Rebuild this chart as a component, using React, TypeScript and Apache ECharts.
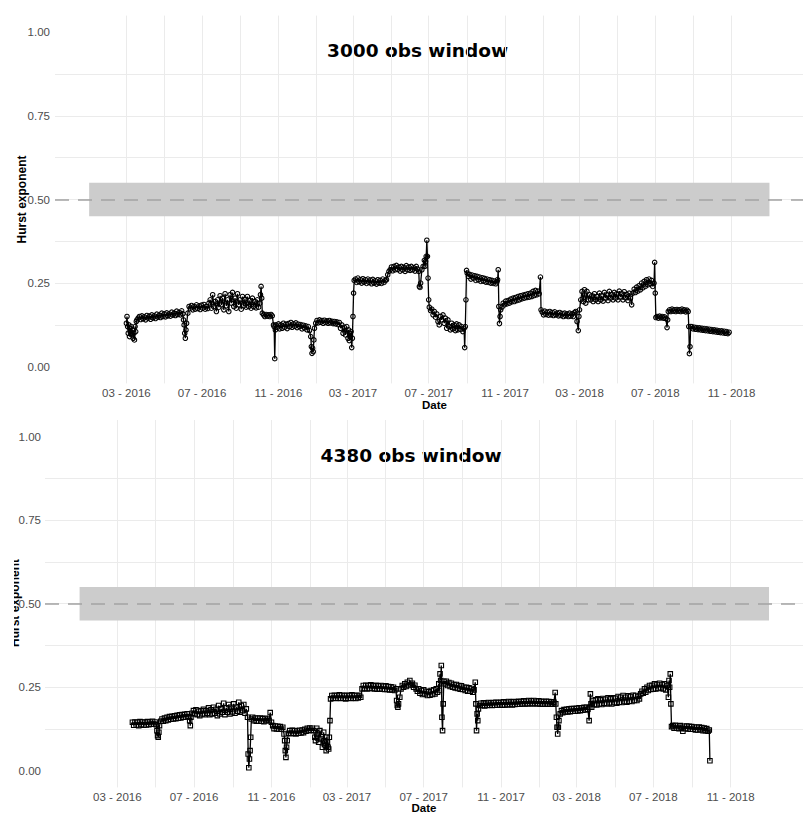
import React, { useEffect, useRef } from "react";
import * as echarts from "echarts";

// ---------- data ----------
const xMin = "2015-11-07";
const xMax = "2019-02-24";
const bandStart = "2016-01-01";
const bandEnd = "2019-01-01";
const bandLow = 0.45;
const bandHigh = 0.55;
const refLevel = 0.5;

const xGridDates = [
  "2016-01-01", "2016-03-01", "2016-05-01", "2016-07-01", "2016-09-01", "2016-11-01",
  "2017-01-01", "2017-03-01", "2017-05-01", "2017-07-01", "2017-09-01", "2017-11-01",
  "2018-01-01", "2018-03-01", "2018-05-01", "2018-07-01", "2018-09-01", "2018-11-01",
  "2019-01-01",
];
const xLabelDates = [
  "2016-03-01", "2016-07-01", "2016-11-01", "2017-03-01", "2017-07-01",
  "2017-11-01", "2018-03-01", "2018-07-01", "2018-11-01",
];
const yGridValues = [0, 0.125, 0.25, 0.375, 0.5, 0.625, 0.75, 0.875, 1];
const yLabelValues = [0, 0.25, 0.5, 0.75, 1];
const panelTitles = ["3000 obs window", "4380 obs window"];
const xTitle = "Date";
const yTitle = "Hurst exponent";

// Hurst exponent, 3000-observation window (date, value)
const hurst3000: [string, number][] = [
  ["2016-03-01",0.13],["2016-03-02",0.15],["2016-03-03",0.12],["2016-03-04",0.1],["2016-03-05",0.125],["2016-03-06",0.09],
  ["2016-03-07",0.115],["2016-03-08",0.1],["2016-03-09",0.12],["2016-03-10",0.095],["2016-03-11",0.11],["2016-03-12",0.085],
  ["2016-03-13",0.1],["2016-03-14",0.08],["2016-03-15",0.12],["2016-03-16",0.105],["2016-03-17",0.135],["2016-03-18",0.14],
  ["2016-03-20",0.145],["2016-03-22",0.15],["2016-03-24",0.141],["2016-03-26",0.152],["2016-03-28",0.143],["2016-03-30",0.149],
  ["2016-04-01",0.14],["2016-04-03",0.153],["2016-04-05",0.145],["2016-04-07",0.151],["2016-04-09",0.142],["2016-04-11",0.155],
  ["2016-04-13",0.146],["2016-04-15",0.152],["2016-04-17",0.144],["2016-04-19",0.157],["2016-04-21",0.148],["2016-04-23",0.154],
  ["2016-04-25",0.147],["2016-04-27",0.16],["2016-04-29",0.15],["2016-05-01",0.158],["2016-05-03",0.149],["2016-05-05",0.161],
  ["2016-05-07",0.152],["2016-05-09",0.158],["2016-05-11",0.151],["2016-05-13",0.163],["2016-05-15",0.154],["2016-05-17",0.16],
  ["2016-05-19",0.153],["2016-05-21",0.166],["2016-05-23",0.156],["2016-05-25",0.162],["2016-05-27",0.155],["2016-05-29",0.167],
  ["2016-05-31",0.158],["2016-06-01",0.14],["2016-06-02",0.125],["2016-06-03",0.1],["2016-06-04",0.085],["2016-06-05",0.11],
  ["2016-06-06",0.13],["2016-06-08",0.16],["2016-06-10",0.18],["2016-06-12",0.175],["2016-06-14",0.183],["2016-06-16",0.17],
  ["2016-06-18",0.18],["2016-06-20",0.172],["2016-06-22",0.185],["2016-06-24",0.174],["2016-06-26",0.182],["2016-06-28",0.171],
  ["2016-06-30",0.184],["2016-07-02",0.175],["2016-07-04",0.186],["2016-07-06",0.172],["2016-07-08",0.18],["2016-07-10",0.174],
  ["2016-07-12",0.19],["2016-07-14",0.2],["2016-07-16",0.175],["2016-07-18",0.215],["2016-07-20",0.18],["2016-07-22",0.195],
  ["2016-07-24",0.165],["2016-07-26",0.2],["2016-07-28",0.178],["2016-07-30",0.212],["2016-08-01",0.185],["2016-08-03",0.205],
  ["2016-08-05",0.17],["2016-08-07",0.218],["2016-08-09",0.182],["2016-08-11",0.2],["2016-08-13",0.165],["2016-08-15",0.215],
  ["2016-08-17",0.19],["2016-08-19",0.222],["2016-08-21",0.18],["2016-08-23",0.205],["2016-08-25",0.175],["2016-08-27",0.218],
  ["2016-08-29",0.185],["2016-08-31",0.2],["2016-09-02",0.172],["2016-09-04",0.21],["2016-09-06",0.182],["2016-09-08",0.202],
  ["2016-09-10",0.178],["2016-09-12",0.21],["2016-09-14",0.18],["2016-09-16",0.198],["2016-09-18",0.175],["2016-09-20",0.205],
  ["2016-09-22",0.18],["2016-09-24",0.195],["2016-09-26",0.176],["2016-09-28",0.2],["2016-09-30",0.178],["2016-10-02",0.19],
  ["2016-10-03",0.215],["2016-10-04",0.24],["2016-10-05",0.205],["2016-10-06",0.16],["2016-10-08",0.155],["2016-10-10",0.15],
  ["2016-10-12",0.156],["2016-10-14",0.151],["2016-10-16",0.155],["2016-10-18",0.15],["2016-10-20",0.156],["2016-10-22",0.152],
  ["2016-10-24",0.125],["2016-10-25",0.12],["2016-10-26",0.024],["2016-10-27",0.11],["2016-10-28",0.125],["2016-10-30",0.118],
  ["2016-11-01",0.128],["2016-11-03",0.113],["2016-11-05",0.125],["2016-11-07",0.115],["2016-11-09",0.13],["2016-11-11",0.118],
  ["2016-11-13",0.127],["2016-11-15",0.114],["2016-11-17",0.129],["2016-11-19",0.12],["2016-11-21",0.132],["2016-11-23",0.118],
  ["2016-11-25",0.128],["2016-11-27",0.121],["2016-11-29",0.131],["2016-12-01",0.117],["2016-12-03",0.127],["2016-12-05",0.12],
  ["2016-12-07",0.126],["2016-12-09",0.113],["2016-12-11",0.124],["2016-12-13",0.116],["2016-12-15",0.122],["2016-12-17",0.11],
  ["2016-12-19",0.12],["2016-12-21",0.108],["2016-12-23",0.09],["2016-12-24",0.06],["2016-12-25",0.04],["2016-12-26",0.055],
  ["2016-12-27",0.045],["2016-12-28",0.08],["2016-12-29",0.115],["2016-12-31",0.13],["2017-01-02",0.138],["2017-01-04",0.131],
  ["2017-01-06",0.14],["2017-01-08",0.133],["2017-01-10",0.138],["2017-01-12",0.13],["2017-01-14",0.139],["2017-01-16",0.132],
  ["2017-01-18",0.137],["2017-01-20",0.13],["2017-01-22",0.138],["2017-01-24",0.131],["2017-01-26",0.136],["2017-01-28",0.129],
  ["2017-01-30",0.135],["2017-02-01",0.128],["2017-02-03",0.134],["2017-02-05",0.126],["2017-02-07",0.132],["2017-02-09",0.115],
  ["2017-02-11",0.125],["2017-02-13",0.1],["2017-02-15",0.118],["2017-02-17",0.095],["2017-02-19",0.12],["2017-02-21",0.085],
  ["2017-02-22",0.11],["2017-02-23",0.078],["2017-02-24",0.1],["2017-02-25",0.09],["2017-02-26",0.105],["2017-02-27",0.057],
  ["2017-02-28",0.085],["2017-03-01",0.15],["2017-03-02",0.22],["2017-03-03",0.258],["2017-03-05",0.262],["2017-03-07",0.252],
  ["2017-03-09",0.265],["2017-03-11",0.254],["2017-03-13",0.26],["2017-03-15",0.25],["2017-03-17",0.263],["2017-03-19",0.253],
  ["2017-03-21",0.26],["2017-03-23",0.249],["2017-03-25",0.262],["2017-03-27",0.252],["2017-03-29",0.259],["2017-03-31",0.248],
  ["2017-04-02",0.261],["2017-04-04",0.25],["2017-04-06",0.257],["2017-04-08",0.247],["2017-04-10",0.26],["2017-04-12",0.25],
  ["2017-04-14",0.258],["2017-04-16",0.249],["2017-04-18",0.262],["2017-04-20",0.252],["2017-04-22",0.258],["2017-04-24",0.26],
  ["2017-04-26",0.275],["2017-04-28",0.285],["2017-04-30",0.29],["2017-05-02",0.298],["2017-05-04",0.287],["2017-05-06",0.3],
  ["2017-05-08",0.29],["2017-05-10",0.303],["2017-05-12",0.291],["2017-05-14",0.298],["2017-05-16",0.286],["2017-05-18",0.3],
  ["2017-05-20",0.29],["2017-05-22",0.297],["2017-05-24",0.285],["2017-05-26",0.302],["2017-05-28",0.29],["2017-05-30",0.298],
  ["2017-06-01",0.288],["2017-06-03",0.3],["2017-06-05",0.29],["2017-06-07",0.296],["2017-06-09",0.286],["2017-06-11",0.3],
  ["2017-06-13",0.292],["2017-06-15",0.285],["2017-06-16",0.24],["2017-06-17",0.237],["2017-06-18",0.25],["2017-06-20",0.29],
  ["2017-06-22",0.3],["2017-06-24",0.318],["2017-06-25",0.3],["2017-06-26",0.315],["2017-06-27",0.33],["2017-06-28",0.378],
  ["2017-06-29",0.33],["2017-06-30",0.265],["2017-07-01",0.2],["2017-07-02",0.178],["2017-07-04",0.168],["2017-07-06",0.172],
  ["2017-07-08",0.155],["2017-07-10",0.165],["2017-07-12",0.148],["2017-07-14",0.158],["2017-07-16",0.135],["2017-07-18",0.125],
  ["2017-07-20",0.15],["2017-07-22",0.14],["2017-07-24",0.155],["2017-07-26",0.13],["2017-07-28",0.145],["2017-07-30",0.115],
  ["2017-08-01",0.14],["2017-08-03",0.12],["2017-08-05",0.11],["2017-08-07",0.13],["2017-08-09",0.113],["2017-08-11",0.125],
  ["2017-08-13",0.108],["2017-08-15",0.128],["2017-08-17",0.11],["2017-08-19",0.125],["2017-08-21",0.112],["2017-08-23",0.12],
  ["2017-08-25",0.105],["2017-08-27",0.115],["2017-08-28",0.057],["2017-08-29",0.12],["2017-08-30",0.2],["2017-08-31",0.288],
  ["2017-09-01",0.28],["2017-09-03",0.27],["2017-09-05",0.276],["2017-09-07",0.262],["2017-09-09",0.274],["2017-09-11",0.265],
  ["2017-09-13",0.272],["2017-09-15",0.258],["2017-09-17",0.27],["2017-09-19",0.26],["2017-09-21",0.268],["2017-09-23",0.255],
  ["2017-09-25",0.266],["2017-09-27",0.256],["2017-09-29",0.264],["2017-10-01",0.253],["2017-10-03",0.262],["2017-10-05",0.252],
  ["2017-10-07",0.26],["2017-10-09",0.25],["2017-10-11",0.258],["2017-10-13",0.249],["2017-10-15",0.256],["2017-10-17",0.248],
  ["2017-10-19",0.254],["2017-10-20",0.26],["2017-10-21",0.29],["2017-10-22",0.18],["2017-10-23",0.129],["2017-10-24",0.15],
  ["2017-10-25",0.17],["2017-10-27",0.178],["2017-10-29",0.19],["2017-10-31",0.185],["2017-11-02",0.196],["2017-11-04",0.188],
  ["2017-11-06",0.198],["2017-11-08",0.19],["2017-11-10",0.202],["2017-11-12",0.194],["2017-11-14",0.205],["2017-11-16",0.195],
  ["2017-11-18",0.207],["2017-11-20",0.198],["2017-11-22",0.21],["2017-11-24",0.2],["2017-11-26",0.212],["2017-11-28",0.203],
  ["2017-11-30",0.214],["2017-12-02",0.205],["2017-12-04",0.216],["2017-12-06",0.207],["2017-12-08",0.218],["2017-12-10",0.208],
  ["2017-12-12",0.22],["2017-12-14",0.21],["2017-12-16",0.225],["2017-12-18",0.213],["2017-12-20",0.228],["2017-12-22",0.215],
  ["2017-12-24",0.226],["2017-12-26",0.218],["2017-12-28",0.268],["2017-12-29",0.17],["2017-12-31",0.163],["2018-01-02",0.155],
  ["2018-01-04",0.166],["2018-01-06",0.156],["2018-01-08",0.163],["2018-01-10",0.154],["2018-01-12",0.165],["2018-01-14",0.155],
  ["2018-01-16",0.162],["2018-01-18",0.153],["2018-01-20",0.164],["2018-01-22",0.155],["2018-01-24",0.16],["2018-01-26",0.152],
  ["2018-01-28",0.162],["2018-01-30",0.153],["2018-02-01",0.159],["2018-02-03",0.15],["2018-02-05",0.16],["2018-02-07",0.152],
  ["2018-02-09",0.158],["2018-02-11",0.15],["2018-02-13",0.16],["2018-02-15",0.151],["2018-02-17",0.158],["2018-02-19",0.15],
  ["2018-02-21",0.162],["2018-02-23",0.165],["2018-02-25",0.135],["2018-02-27",0.108],["2018-02-28",0.15],["2018-03-01",0.17],
  ["2018-03-03",0.2],["2018-03-05",0.225],["2018-03-07",0.195],["2018-03-09",0.23],["2018-03-11",0.19],["2018-03-13",0.225],
  ["2018-03-15",0.2],["2018-03-17",0.215],["2018-03-19",0.2],["2018-03-21",0.212],["2018-03-23",0.195],["2018-03-25",0.218],
  ["2018-03-27",0.2],["2018-03-29",0.21],["2018-03-31",0.195],["2018-04-02",0.22],["2018-04-04",0.2],["2018-04-06",0.212],
  ["2018-04-08",0.196],["2018-04-10",0.222],["2018-04-12",0.205],["2018-04-14",0.215],["2018-04-16",0.198],["2018-04-18",0.225],
  ["2018-04-20",0.205],["2018-04-22",0.216],["2018-04-24",0.2],["2018-04-26",0.222],["2018-04-28",0.205],["2018-04-30",0.218],
  ["2018-05-02",0.2],["2018-05-04",0.226],["2018-05-06",0.208],["2018-05-08",0.218],["2018-05-10",0.2],["2018-05-12",0.224],
  ["2018-05-14",0.206],["2018-05-16",0.216],["2018-05-18",0.198],["2018-05-20",0.22],["2018-05-22",0.205],["2018-05-24",0.185],
  ["2018-05-26",0.22],["2018-05-28",0.232],["2018-05-30",0.222],["2018-06-01",0.238],["2018-06-03",0.226],["2018-06-05",0.242],
  ["2018-06-07",0.23],["2018-06-09",0.25],["2018-06-11",0.236],["2018-06-13",0.255],["2018-06-15",0.24],["2018-06-17",0.26],
  ["2018-06-19",0.245],["2018-06-21",0.262],["2018-06-23",0.248],["2018-06-25",0.258],["2018-06-27",0.24],["2018-06-29",0.25],
  ["2018-06-30",0.312],["2018-07-01",0.22],["2018-07-02",0.147],["2018-07-04",0.15],["2018-07-06",0.145],["2018-07-08",0.151],
  ["2018-07-10",0.146],["2018-07-12",0.15],["2018-07-14",0.145],["2018-07-16",0.149],["2018-07-18",0.144],["2018-07-20",0.117],
  ["2018-07-21",0.14],["2018-07-22",0.165],["2018-07-24",0.17],["2018-07-26",0.165],["2018-07-28",0.172],["2018-07-30",0.166],
  ["2018-08-01",0.17],["2018-08-03",0.165],["2018-08-05",0.171],["2018-08-07",0.166],["2018-08-09",0.17],["2018-08-11",0.165],
  ["2018-08-13",0.172],["2018-08-15",0.166],["2018-08-17",0.17],["2018-08-19",0.164],["2018-08-21",0.169],["2018-08-23",0.165],
  ["2018-08-24",0.12],["2018-08-25",0.039],["2018-08-26",0.06],["2018-08-27",0.12],["2018-08-29",0.12],["2018-08-31",0.113],
  ["2018-09-02",0.118],["2018-09-04",0.112],["2018-09-06",0.117],["2018-09-08",0.111],["2018-09-10",0.116],["2018-09-12",0.11],
  ["2018-09-14",0.115],["2018-09-16",0.109],["2018-09-18",0.114],["2018-09-20",0.108],["2018-09-22",0.113],["2018-09-24",0.107],
  ["2018-09-26",0.112],["2018-09-28",0.106],["2018-09-30",0.111],["2018-10-02",0.105],["2018-10-04",0.11],["2018-10-06",0.104],
  ["2018-10-08",0.109],["2018-10-10",0.103],["2018-10-12",0.107],["2018-10-14",0.102],["2018-10-16",0.107],["2018-10-18",0.101],
  ["2018-10-20",0.106],["2018-10-22",0.1],["2018-10-24",0.105],["2018-10-26",0.099],["2018-10-28",0.103],
];

// Hurst exponent, 4380-observation window (date, value)
const hurst4380: [string, number][] = [
  ["2016-03-25",0.145],["2016-03-27",0.136],["2016-03-29",0.146],["2016-03-31",0.137],["2016-04-02",0.145],["2016-04-04",0.135],
  ["2016-04-06",0.147],["2016-04-08",0.138],["2016-04-10",0.146],["2016-04-12",0.136],["2016-04-14",0.145],["2016-04-16",0.137],
  ["2016-04-18",0.147],["2016-04-20",0.138],["2016-04-22",0.146],["2016-04-24",0.139],["2016-04-26",0.148],["2016-04-28",0.14],
  ["2016-04-30",0.146],["2016-05-02",0.138],["2016-05-03",0.12],["2016-05-04",0.105],["2016-05-05",0.1],["2016-05-06",0.115],
  ["2016-05-07",0.135],["2016-05-09",0.148],["2016-05-11",0.155],["2016-05-13",0.148],["2016-05-15",0.158],["2016-05-17",0.15],
  ["2016-05-19",0.16],["2016-05-21",0.152],["2016-05-23",0.162],["2016-05-25",0.154],["2016-05-27",0.163],["2016-05-29",0.155],
  ["2016-05-31",0.164],["2016-06-02",0.156],["2016-06-04",0.166],["2016-06-06",0.157],["2016-06-08",0.167],["2016-06-10",0.158],
  ["2016-06-12",0.168],["2016-06-14",0.16],["2016-06-16",0.169],["2016-06-18",0.161],["2016-06-20",0.17],["2016-06-22",0.162],
  ["2016-06-24",0.15],["2016-06-25",0.135],["2016-06-26",0.16],["2016-06-28",0.172],["2016-06-30",0.18],["2016-07-02",0.17],
  ["2016-07-04",0.182],["2016-07-06",0.168],["2016-07-08",0.178],["2016-07-10",0.165],["2016-07-12",0.18],["2016-07-14",0.17],
  ["2016-07-16",0.184],["2016-07-18",0.168],["2016-07-20",0.18],["2016-07-22",0.172],["2016-07-24",0.188],["2016-07-26",0.168],
  ["2016-07-28",0.182],["2016-07-30",0.17],["2016-08-01",0.19],["2016-08-03",0.172],["2016-08-05",0.184],["2016-08-07",0.165],
  ["2016-08-09",0.195],["2016-08-11",0.17],["2016-08-13",0.185],["2016-08-15",0.175],["2016-08-17",0.202],["2016-08-19",0.168],
  ["2016-08-21",0.188],["2016-08-23",0.175],["2016-08-25",0.198],["2016-08-27",0.17],["2016-08-29",0.19],["2016-08-31",0.176],
  ["2016-09-02",0.2],["2016-09-04",0.172],["2016-09-06",0.19],["2016-09-08",0.178],["2016-09-10",0.205],["2016-09-12",0.175],
  ["2016-09-14",0.195],["2016-09-16",0.18],["2016-09-18",0.198],["2016-09-20",0.172],["2016-09-22",0.185],["2016-09-24",0.16],
  ["2016-09-25",0.05],["2016-09-26",0.009],["2016-09-27",0.035],["2016-09-28",0.06],["2016-09-29",0.1],["2016-09-30",0.155],
  ["2016-10-02",0.16],["2016-10-04",0.15],["2016-10-06",0.158],["2016-10-08",0.148],["2016-10-10",0.157],["2016-10-12",0.149],
  ["2016-10-14",0.158],["2016-10-16",0.148],["2016-10-18",0.156],["2016-10-20",0.147],["2016-10-22",0.157],["2016-10-24",0.15],
  ["2016-10-26",0.155],["2016-10-28",0.15],["2016-10-30",0.174],["2016-11-01",0.145],["2016-11-03",0.135],["2016-11-05",0.126],
  ["2016-11-07",0.134],["2016-11-09",0.125],["2016-11-11",0.133],["2016-11-13",0.124],["2016-11-15",0.132],["2016-11-17",0.125],
  ["2016-11-19",0.13],["2016-11-21",0.11],["2016-11-22",0.09],["2016-11-23",0.06],["2016-11-24",0.04],["2016-11-25",0.07],
  ["2016-11-26",0.09],["2016-11-28",0.112],["2016-11-30",0.12],["2016-12-02",0.111],["2016-12-04",0.121],["2016-12-06",0.112],
  ["2016-12-08",0.12],["2016-12-10",0.11],["2016-12-12",0.119],["2016-12-14",0.112],["2016-12-16",0.121],["2016-12-18",0.113],
  ["2016-12-20",0.122],["2016-12-22",0.114],["2016-12-24",0.124],["2016-12-26",0.118],["2016-12-28",0.127],["2016-12-30",0.12],
  ["2017-01-01",0.128],["2017-01-03",0.121],["2017-01-05",0.127],["2017-01-07",0.12],["2017-01-09",0.1],["2017-01-10",0.09],
  ["2017-01-12",0.127],["2017-01-14",0.11],["2017-01-15",0.085],["2017-01-17",0.12],["2017-01-19",0.095],["2017-01-21",0.07],
  ["2017-01-23",0.115],["2017-01-24",0.09],["2017-01-26",0.075],["2017-01-27",0.06],["2017-01-28",0.1],["2017-01-29",0.085],
  ["2017-01-30",0.07],["2017-01-31",0.065],["2017-02-01",0.1],["2017-02-02",0.15],["2017-02-03",0.215],["2017-02-05",0.225],
  ["2017-02-07",0.217],["2017-02-09",0.226],["2017-02-11",0.216],["2017-02-13",0.225],["2017-02-15",0.217],["2017-02-17",0.227],
  ["2017-02-19",0.216],["2017-02-21",0.226],["2017-02-23",0.217],["2017-02-25",0.225],["2017-02-27",0.215],["2017-03-01",0.226],
  ["2017-03-03",0.217],["2017-03-05",0.225],["2017-03-07",0.216],["2017-03-09",0.227],["2017-03-11",0.217],["2017-03-13",0.225],
  ["2017-03-15",0.216],["2017-03-17",0.226],["2017-03-19",0.218],["2017-03-21",0.225],["2017-03-23",0.22],["2017-03-25",0.245],
  ["2017-03-27",0.255],["2017-03-29",0.246],["2017-03-31",0.256],["2017-04-02",0.245],["2017-04-04",0.255],["2017-04-06",0.246],
  ["2017-04-08",0.257],["2017-04-10",0.246],["2017-04-12",0.254],["2017-04-14",0.245],["2017-04-16",0.256],["2017-04-18",0.244],
  ["2017-04-20",0.254],["2017-04-22",0.245],["2017-04-24",0.255],["2017-04-26",0.244],["2017-04-28",0.253],["2017-04-30",0.243],
  ["2017-05-02",0.254],["2017-05-04",0.243],["2017-05-06",0.252],["2017-05-08",0.242],["2017-05-10",0.251],["2017-05-12",0.242],
  ["2017-05-14",0.25],["2017-05-16",0.24],["2017-05-18",0.245],["2017-05-19",0.21],["2017-05-20",0.195],["2017-05-21",0.19],
  ["2017-05-22",0.2],["2017-05-24",0.22],["2017-05-26",0.245],["2017-05-28",0.255],["2017-05-30",0.25],["2017-06-01",0.26],
  ["2017-06-03",0.252],["2017-06-05",0.265],["2017-06-07",0.255],["2017-06-09",0.27],["2017-06-11",0.258],["2017-06-13",0.262],
  ["2017-06-15",0.25],["2017-06-17",0.256],["2017-06-19",0.245],["2017-06-21",0.238],["2017-06-23",0.245],["2017-06-25",0.232],
  ["2017-06-27",0.24],["2017-06-29",0.228],["2017-07-01",0.242],["2017-07-03",0.23],["2017-07-05",0.238],["2017-07-07",0.225],
  ["2017-07-09",0.236],["2017-07-11",0.226],["2017-07-13",0.24],["2017-07-15",0.228],["2017-07-17",0.242],["2017-07-19",0.23],
  ["2017-07-21",0.245],["2017-07-23",0.235],["2017-07-25",0.26],["2017-07-26",0.24],["2017-07-27",0.29],["2017-07-28",0.27],
  ["2017-07-29",0.315],["2017-07-30",0.16],["2017-07-31",0.12],["2017-08-01",0.2],["2017-08-02",0.268],["2017-08-04",0.26],
  ["2017-08-06",0.268],["2017-08-08",0.255],["2017-08-10",0.264],["2017-08-12",0.252],["2017-08-14",0.262],["2017-08-16",0.25],
  ["2017-08-18",0.258],["2017-08-20",0.248],["2017-08-22",0.258],["2017-08-24",0.246],["2017-08-26",0.255],["2017-08-28",0.244],
  ["2017-08-30",0.254],["2017-09-01",0.243],["2017-09-03",0.25],["2017-09-05",0.24],["2017-09-07",0.25],["2017-09-09",0.238],
  ["2017-09-11",0.248],["2017-09-13",0.238],["2017-09-15",0.246],["2017-09-17",0.235],["2017-09-19",0.242],["2017-09-21",0.265],
  ["2017-09-22",0.2],["2017-09-23",0.12],["2017-09-24",0.17],["2017-09-25",0.15],["2017-09-26",0.185],["2017-09-28",0.195],
  ["2017-09-30",0.202],["2017-10-02",0.195],["2017-10-04",0.203],["2017-10-06",0.194],["2017-10-08",0.202],["2017-10-10",0.195],
  ["2017-10-12",0.204],["2017-10-14",0.196],["2017-10-16",0.203],["2017-10-18",0.195],["2017-10-20",0.204],["2017-10-22",0.196],
  ["2017-10-24",0.205],["2017-10-26",0.196],["2017-10-28",0.204],["2017-10-30",0.197],["2017-11-01",0.205],["2017-11-03",0.196],
  ["2017-11-05",0.206],["2017-11-07",0.197],["2017-11-09",0.205],["2017-11-11",0.197],["2017-11-13",0.207],["2017-11-15",0.198],
  ["2017-11-17",0.206],["2017-11-19",0.197],["2017-11-21",0.207],["2017-11-23",0.198],["2017-11-25",0.206],["2017-11-27",0.199],
  ["2017-11-29",0.208],["2017-12-01",0.199],["2017-12-03",0.207],["2017-12-05",0.2],["2017-12-07",0.209],["2017-12-09",0.2],
  ["2017-12-11",0.208],["2017-12-13",0.2],["2017-12-15",0.21],["2017-12-17",0.201],["2017-12-19",0.209],["2017-12-21",0.2],
  ["2017-12-23",0.21],["2017-12-25",0.201],["2017-12-27",0.208],["2017-12-29",0.2],["2017-12-31",0.209],["2018-01-02",0.2],
  ["2018-01-04",0.208],["2018-01-06",0.199],["2018-01-08",0.207],["2018-01-10",0.2],["2018-01-12",0.208],["2018-01-14",0.199],
  ["2018-01-16",0.207],["2018-01-18",0.2],["2018-01-20",0.206],["2018-01-22",0.199],["2018-01-24",0.205],["2018-01-26",0.234],
  ["2018-01-27",0.2],["2018-01-28",0.16],["2018-01-29",0.13],["2018-01-30",0.11],["2018-01-31",0.13],["2018-02-01",0.15],
  ["2018-02-03",0.17],["2018-02-05",0.18],["2018-02-07",0.174],["2018-02-09",0.183],["2018-02-11",0.176],["2018-02-13",0.184],
  ["2018-02-15",0.176],["2018-02-17",0.185],["2018-02-19",0.177],["2018-02-21",0.186],["2018-02-23",0.178],["2018-02-25",0.186],
  ["2018-02-27",0.178],["2018-03-01",0.187],["2018-03-03",0.179],["2018-03-05",0.188],["2018-03-07",0.18],["2018-03-09",0.188],
  ["2018-03-11",0.181],["2018-03-13",0.19],["2018-03-15",0.182],["2018-03-17",0.19],["2018-03-19",0.184],["2018-03-21",0.15],
  ["2018-03-22",0.19],["2018-03-23",0.23],["2018-03-24",0.2],["2018-03-25",0.19],["2018-03-27",0.21],["2018-03-29",0.198],
  ["2018-03-31",0.212],["2018-04-02",0.197],["2018-04-04",0.215],["2018-04-06",0.2],["2018-04-08",0.212],["2018-04-10",0.198],
  ["2018-04-12",0.216],["2018-04-14",0.202],["2018-04-16",0.214],["2018-04-18",0.2],["2018-04-20",0.218],["2018-04-22",0.203],
  ["2018-04-24",0.215],["2018-04-26",0.2],["2018-04-28",0.218],["2018-04-30",0.204],["2018-05-02",0.217],["2018-05-04",0.202],
  ["2018-05-06",0.222],["2018-05-08",0.205],["2018-05-10",0.22],["2018-05-12",0.204],["2018-05-14",0.225],["2018-05-16",0.207],
  ["2018-05-18",0.22],["2018-05-20",0.205],["2018-05-22",0.224],["2018-05-24",0.208],["2018-05-26",0.222],["2018-05-28",0.207],
  ["2018-05-30",0.226],["2018-06-01",0.21],["2018-06-03",0.225],["2018-06-05",0.21],["2018-06-07",0.222],["2018-06-09",0.215],
  ["2018-06-11",0.23],["2018-06-13",0.238],["2018-06-15",0.232],["2018-06-17",0.245],["2018-06-19",0.235],["2018-06-21",0.25],
  ["2018-06-23",0.24],["2018-06-25",0.255],["2018-06-27",0.243],["2018-06-29",0.256],["2018-07-01",0.244],["2018-07-03",0.26],
  ["2018-07-05",0.245],["2018-07-07",0.258],["2018-07-09",0.246],["2018-07-11",0.262],["2018-07-13",0.248],["2018-07-15",0.258],
  ["2018-07-17",0.245],["2018-07-19",0.26],["2018-07-21",0.242],["2018-07-23",0.255],["2018-07-25",0.22],["2018-07-26",0.27],
  ["2018-07-27",0.25],["2018-07-28",0.29],["2018-07-29",0.2],["2018-07-30",0.132],["2018-08-01",0.135],["2018-08-03",0.127],
  ["2018-08-05",0.136],["2018-08-07",0.128],["2018-08-09",0.134],["2018-08-11",0.126],["2018-08-13",0.135],["2018-08-15",0.127],
  ["2018-08-17",0.118],["2018-08-19",0.133],["2018-08-21",0.126],["2018-08-23",0.134],["2018-08-25",0.125],["2018-08-27",0.133],
  ["2018-08-29",0.124],["2018-08-31",0.132],["2018-09-02",0.124],["2018-09-04",0.131],["2018-09-06",0.122],["2018-09-08",0.13],
  ["2018-09-10",0.122],["2018-09-12",0.131],["2018-09-14",0.123],["2018-09-16",0.129],["2018-09-18",0.12],["2018-09-20",0.128],
  ["2018-09-22",0.12],["2018-09-24",0.126],["2018-09-26",0.118],["2018-09-28",0.122],["2018-09-29",0.03],
];

// ---------- helpers ----------
const ts = (s: string) => {
  const [y, m, d] = s.split("-").map(Number);
  return new Date(y, m - 1, d).getTime();
};
const pad2 = (n: number) => (n < 10 ? "0" + n : String(n));

const LABEL_FONT = "Liberation Sans, Arial, sans-serif";
const TITLE_FONT = "DejaVu Sans, Verdana, sans-serif";
const GRID_COLOR = "#ebebeb";

const panels = [
  { left: 55, top: 15.6, width: 759, height: 367.8, data: hurst3000, symbol: "circle" },
  { left: 45, top: 420, width: 759, height: 367.4, data: hurst4380, symbol: "rect" },
];

export default function App() {
  const ref = useRef<HTMLDivElement>(null);

  useEffect(() => {
    if (!ref.current) return;
    const chart = echarts.init(ref.current, undefined, { renderer: "svg" });

    const grid = panels.map((p) => ({
      left: p.left,
      top: p.top,
      width: p.width,
      height: p.height,
      containLabel: false,
    }));

    const xAxis = panels.map((_, i) => ({
      type: "value",
      gridIndex: i,
      min: ts(xMin),
      max: ts(xMax),
      axisLine: { show: false },
      axisTick: { show: false, customValues: xGridDates.map(ts) },
      splitLine: { show: true, showMinLine: false, showMaxLine: false, lineStyle: { color: GRID_COLOR, width: 1 } },
      axisLabel: {
        customValues: xLabelDates.map(ts),
        margin: 4,
        color: "#4d4d4d",
        fontSize: 11.5,
        fontFamily: LABEL_FONT,
        hideOverlap: false,
        formatter: (v: number) => {
          const d = new Date(v);
          return pad2(d.getMonth() + 1) + " - " + d.getFullYear();
        },
      },
    }));

    const yAxis = panels.map((_, i) => ({
      type: "value",
      gridIndex: i,
      min: -0.05,
      max: 1.05,
      axisLine: { show: false },
      axisTick: { show: false, customValues: yGridValues },
      splitLine: { show: true, showMinLine: false, showMaxLine: false, lineStyle: { color: GRID_COLOR, width: 1 } },
      axisLabel: {
        customValues: yLabelValues,
        margin: i === 0 ? 5 : 4,
        color: "#4d4d4d",
        fontSize: 11.5,
        fontFamily: LABEL_FONT,
        formatter: (v: number) => v.toFixed(2),
      },
    }));

    const series: any[] = [];
    panels.forEach((p, i) => {
      series.push({
        type: "line",
        xAxisIndex: i,
        yAxisIndex: i,
        data: [],
        silent: true,
        z: 1,
        markArea: {
          silent: true,
          itemStyle: { color: "#cccccc", opacity: 1 },
          data: [[{ xAxis: ts(bandStart), yAxis: bandLow }, { xAxis: ts(bandEnd), yAxis: bandHigh }]],
        },
        markLine: {
          silent: true,
          symbol: ["none", "none"],
          label: { show: false },
          lineStyle: { color: "#a3a3a3", width: 1.6, type: [14, 9] },
          data: [{ yAxis: refLevel }],
        },
      });
      series.push({
        type: "line",
        name: panelTitles[i],
        xAxisIndex: i,
        yAxisIndex: i,
        data: p.data.map(([d, v]) => [ts(d), v]),
        symbol: p.symbol,
        symbolSize: 4.5,
        showSymbol: true,
        showAllSymbol: true,
        lineStyle: { color: "#000", width: 1.3 },
        itemStyle: { color: "rgba(0,0,0,0)", borderColor: "#000", borderWidth: 1.1 },
        z: 3,
      });
    });

    const graphic: any[] = [
      {
        type: "text",
        x: 417.5,
        y: 50,
        style: {
          text: panelTitles[0],
          font: "bold 18.5px " + TITLE_FONT,
          fill: "#000",
          textAlign: "center",
          textVerticalAlign: "middle",
        },
      },
      {
        type: "text",
        x: 411,
        y: 455,
        style: {
          text: panelTitles[1],
          font: "bold 18.5px " + TITLE_FONT,
          fill: "#000",
          textAlign: "center",
          textVerticalAlign: "middle",
        },
      },
      {
        type: "text",
        x: 434.5,
        y: 405,
        style: { text: xTitle, font: "bold 11.5px " + LABEL_FONT, fill: "#000", textAlign: "center", textVerticalAlign: "middle" },
      },
      {
        type: "text",
        x: 424,
        y: 808,
        style: { text: xTitle, font: "bold 11.5px " + LABEL_FONT, fill: "#000", textAlign: "center", textVerticalAlign: "middle" },
      },
      {
        type: "text",
        x: 22,
        y: 199.5,
        rotation: Math.PI / 2,
        style: { text: yTitle, font: "bold 12px " + LABEL_FONT, fill: "#000", textAlign: "center", textVerticalAlign: "middle" },
      },
      {
        type: "text",
        x: 15,
        y: 603,
        rotation: Math.PI / 2,
        style: { text: yTitle, font: "bold 12px " + LABEL_FONT, fill: "#000", textAlign: "center", textVerticalAlign: "middle" },
      },
      {
        type: "rect",
        shape: { x: 0, y: 540, width: 14, height: 130 },
        style: { fill: "#fff" },
        z: 100,
      },
    ];

    chart.setOption({
      animation: false,
      backgroundColor: "#fff",
      grid,
      xAxis,
      yAxis,
      series,
      graphic,
    });

    return () => chart.dispose();
  }, []);

  return (
    <div
      ref={ref}
      style={{ position: "fixed", left: 0, top: 0, width: 803, height: 813, background: "#fff" }}
    />
  );
}
